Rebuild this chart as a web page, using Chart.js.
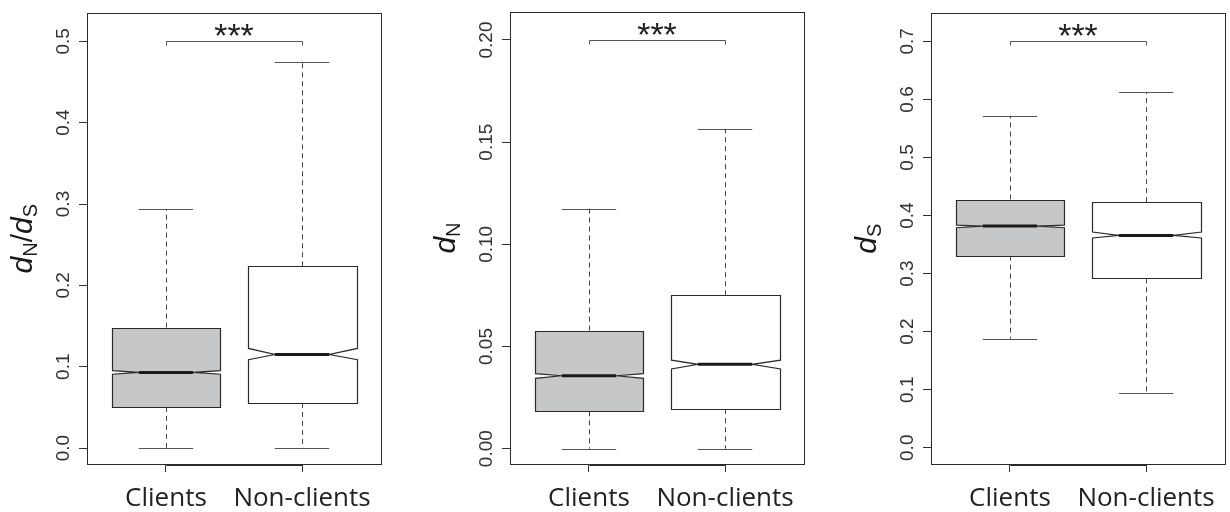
<!DOCTYPE html>
<html><head><meta charset="utf-8">
<script src="https://cdn.jsdelivr.net/npm/chart.js@4.4.1/dist/chart.umd.min.js"></script>
<style>
html,body{margin:0;padding:0;background:#fff;width:1230px;height:512px;overflow:hidden}
.panel{position:absolute;top:0;width:410px;height:512px}
</style></head><body>
<div class="panel" style="left:0"><canvas id="c1" width="410" height="512"></canvas></div>
<div class="panel" style="left:410px"><canvas id="c2" width="410" height="512"></canvas></div>
<div class="panel" style="left:820px"><canvas id="c3" width="410" height="512"></canvas></div>
<script>
// ---------- data ----------
const categories = ['Clients', 'Non-clients'];

// panel 1 : dN/dS
const dndsMin      = [0.000, 0.000];
const dndsQ1       = [0.0506, 0.0555];
const dndsNotchLo  = [0.0907, 0.1087];
const dndsMedian   = [0.0930, 0.1150];
const dndsNotchHi  = [0.0952, 0.1225];
const dndsQ3       = [0.1480, 0.2234];
const dndsMax      = [0.2940, 0.4750];
const dndsTicks      = [0, 0.1, 0.2, 0.3, 0.4, 0.5];
const dndsTickLabels = ['0.0', '0.1', '0.2', '0.3', '0.4', '0.5'];
const dndsSignif = 0.5;

// panel 2 : dN
const dnMin      = [0.000, 0.000];
const dnQ1       = [0.0183, 0.0193];
const dnNotchLo  = [0.0344, 0.0390];
const dnMedian   = [0.0357, 0.0413];
const dnNotchHi  = [0.0367, 0.0433];
const dnQ3       = [0.0578, 0.0751];
const dnMax      = [0.1175, 0.1566];
const dnTicks      = [0, 0.05, 0.10, 0.15, 0.20];
const dnTickLabels = ['0.00', '0.05', '0.10', '0.15', '0.20'];
const dnSignif = 0.2;

// panel 3 : dS
const dsMin      = [0.1878, 0.0951];
const dsQ1       = [0.3309, 0.2919];
const dsNotchLo  = [0.3790, 0.3613];
const dsMedian   = [0.3819, 0.3658];
const dsNotchHi  = [0.3836, 0.3716];
const dsQ3       = [0.4276, 0.4231];
const dsMax      = [0.5720, 0.6130];
const dsTicks      = [0, 0.1, 0.2, 0.3, 0.4, 0.5, 0.6, 0.7];
const dsTickLabels = ['0.0', '0.1', '0.2', '0.3', '0.4', '0.5', '0.6', '0.7'];
const dsSignif = 0.7;

const signifLabel = '***';
const boxFills = ['#c6c7c9', '#ffffff'];

// ---------- panels ----------
const panels = [
  { id: 'c1', min: dndsMin, q1: dndsQ1, nlo: dndsNotchLo, med: dndsMedian, nhi: dndsNotchHi, q3: dndsQ3, max: dndsMax,
    ticks: dndsTicks, labels: dndsTickLabels, signif: dndsSignif, yMin: -0.0196, yMax: 0.5343,
    title: [['d', 'i'], ['N', 's'], ['/', 'n'], ['d', 'i'], ['S', 's']],
    left: 87, right: 29, pad: 2 },
  { id: 'c2', min: dnMin, q1: dnQ1, nlo: dnNotchLo, med: dnMedian, nhi: dnNotchHi, q3: dnQ3, max: dnMax,
    ticks: dnTicks, labels: dnTickLabels, signif: dnSignif, yMin: -0.0075, yMax: 0.2137,
    title: [['d', 'i'], ['N', 's']],
    left: 100, right: 16, pad: -3 },
  { id: 'c3', min: dsMin, q1: dsQ1, nlo: dsNotchLo, med: dsMedian, nhi: dsNotchHi, q3: dsQ3, max: dsMax,
    ticks: dsTicks, labels: dsTickLabels, signif: dsSignif, yMin: -0.028, yMax: 0.7482,
    title: [['d', 'i'], ['S', 's']],
    left: 111, right: 5, pad: 2 }
];

const BOX_HALF = 0.4, CAP_HALF = 0.2, NOTCH_HALF = 0.2;

function makePlugin(p) {
  return {
    id: 'notchedBoxplot',
    afterDraw(chart) {
      const ctx = chart.ctx, a = chart.chartArea;
      const xs = chart.scales.x, ys = chart.scales.y;
      const X = v => xs.getPixelForValue(v);
      const Y = v => ys.getPixelForValue(v);
      const r = v => Math.round(v) + 0.5;
      ctx.save();
      // frame
      ctx.strokeStyle = '#2a2a2a'; ctx.lineWidth = 1; ctx.setLineDash([]);
      ctx.strokeRect(r(a.left), r(a.top), Math.round(a.right - a.left), Math.round(a.bottom - a.top));
      // x axis line between category ticks (overlapping the frame)
      ctx.beginPath();
      ctx.moveTo(r(X(1)), r(a.bottom) + 1); ctx.lineTo(r(X(2)), r(a.bottom) + 1);
      ctx.stroke();

      categories.forEach((cat, i) => {
        const c = i + 1;
        // whiskers (dashed)
        ctx.strokeStyle = '#444'; ctx.lineWidth = 1; ctx.setLineDash([5, 4]);
        ctx.beginPath();
        ctx.moveTo(r(X(c)), Y(p.q3[i])); ctx.lineTo(r(X(c)), Y(p.max[i]));
        ctx.moveTo(r(X(c)), Y(p.q1[i])); ctx.lineTo(r(X(c)), Y(p.min[i]));
        ctx.stroke();
        ctx.setLineDash([]);
        // caps
        ctx.strokeStyle = '#555';
        ctx.beginPath();
        ctx.moveTo(X(c - CAP_HALF), r(Y(p.max[i]))); ctx.lineTo(X(c + CAP_HALF), r(Y(p.max[i])));
        ctx.moveTo(X(c - CAP_HALF), r(Y(p.min[i]))); ctx.lineTo(X(c + CAP_HALF), r(Y(p.min[i])));
        ctx.stroke();
        // notched box
        const L = r(X(c - BOX_HALF)), R = r(X(c + BOX_HALF));
        ctx.beginPath();
        ctx.moveTo(L, r(Y(p.q1[i])));
        ctx.lineTo(L, Y(p.nlo[i]));
        ctx.lineTo(X(c - NOTCH_HALF), Y(p.med[i]));
        ctx.lineTo(L, Y(p.nhi[i]));
        ctx.lineTo(L, r(Y(p.q3[i])));
        ctx.lineTo(R, r(Y(p.q3[i])));
        ctx.lineTo(R, Y(p.nhi[i]));
        ctx.lineTo(X(c + NOTCH_HALF), Y(p.med[i]));
        ctx.lineTo(R, Y(p.nlo[i]));
        ctx.lineTo(R, r(Y(p.q1[i])));
        ctx.closePath();
        ctx.fillStyle = boxFills[i]; ctx.fill();
        ctx.strokeStyle = '#2a2a2a'; ctx.lineWidth = 1.2; ctx.stroke();
        // median
        ctx.beginPath();
        ctx.strokeStyle = '#1a1a1a'; ctx.lineWidth = 3;
        ctx.moveTo(X(c - NOTCH_HALF), Y(p.med[i])); ctx.lineTo(X(c + NOTCH_HALF), Y(p.med[i]));
        ctx.stroke();
      });

      // significance bracket
      const sy = r(Y(p.signif));
      ctx.strokeStyle = '#555'; ctx.lineWidth = 1;
      ctx.beginPath();
      ctx.moveTo(r(X(1)), sy + 4); ctx.lineTo(r(X(1)), sy); ctx.lineTo(r(X(2)), sy); ctx.lineTo(r(X(2)), sy + 4);
      ctx.stroke();
      ctx.fillStyle = '#222';
      ctx.font = '34px "Liberation Sans"';
      ctx.textAlign = 'center'; ctx.textBaseline = 'alphabetic';
      const m = ctx.measureText(signifLabel);
      const inkC = sy - 11.5;
      ctx.fillText(signifLabel, X(1.5), inkC + (m.actualBoundingBoxAscent - m.actualBoundingBoxDescent) / 2);

      // y-axis title with subscripts
      const fonts = { i: 'italic 30px "Liberation Sans"', s: '20px "Liberation Sans"', n: '30px "Liberation Sans"' };
      const dys = { i: 0, s: 5, n: 0 };
      let total = 0;
      const widths = p.title.map(([t, k]) => { ctx.font = fonts[k]; const w = ctx.measureText(t).width; total += w; return w; });
      ctx.translate(a.left - 55, (a.top + a.bottom) / 2);
      ctx.rotate(-Math.PI / 2);
      ctx.textAlign = 'left'; ctx.textBaseline = 'alphabetic'; ctx.fillStyle = '#1a1a1a';
      let xx = -total / 2;
      p.title.forEach(([t, k], j) => { ctx.font = fonts[k]; ctx.fillText(t, xx, dys[k]); xx += widths[j]; });
      ctx.restore();
    }
  };
}

panels.forEach(p => {
  new Chart(document.getElementById(p.id), {
    type: 'scatter',
    data: { datasets: [] },
    plugins: [makePlugin(p)],
    options: {
      responsive: false, animation: false, devicePixelRatio: 1,
      layout: { padding: { top: 12, right: p.right, left: 0, bottom: 0 } },
      plugins: { legend: { display: false }, tooltip: { enabled: false } },
      scales: {
        x: {
          type: 'linear', min: 0.42, max: 2.58,
          afterBuildTicks: s => { s.ticks = categories.map((_, i) => ({ value: i + 1 })); },
          afterFit: s => { s.height = 48; },
          border: { display: false },
          grid: { drawOnChartArea: false, drawTicks: true, tickLength: 8, color: '#333', lineWidth: 1 },
          ticks: { autoSkip: false, maxRotation: 0, minRotation: 0, padding: 11, color: '#222',
                   font: { family: '"Open Sans"', size: 26 }, callback: (v, i) => categories[i] }
        },
        y: {
          type: 'linear', min: p.yMin, max: p.yMax,
          afterBuildTicks: s => { s.ticks = p.ticks.map(v => ({ value: v })); },
          afterFit: s => { s.width = p.left; },
          border: { display: false },
          grid: { drawOnChartArea: false, drawTicks: true, tickLength: 8, color: '#333', lineWidth: 1 },
          ticks: { autoSkip: false, minRotation: 90, maxRotation: 90, crossAlign: 'center', padding: p.pad,
                   color: '#333', font: { family: '"Liberation Sans"', size: 19 }, callback: (v, i) => p.labels[i] }
        }
      }
    }
  });
});
</script>
</body></html>
